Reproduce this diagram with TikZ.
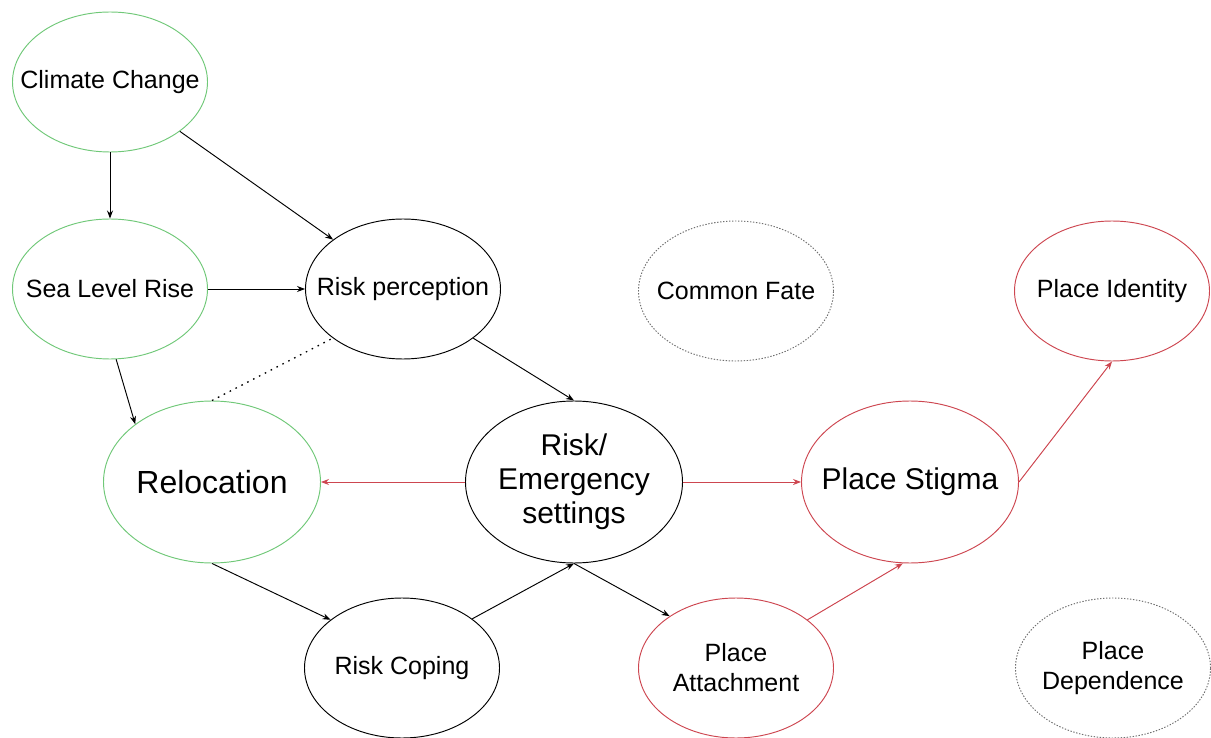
\documentclass[tikz,border=0pt]{standalone}
\usepackage{fontspec}
\setmainfont{Liberation Sans}
\usetikzlibrary{shapes.geometric,arrows.meta}
\definecolor{leafgreen}{RGB}{112,200,120}
\definecolor{stigmared}{RGB}{205,70,80}
\definecolor{fategray}{RGB}{110,110,110}

\begin{document}
\begin{tikzpicture}[x=1pt, y=-1pt, line width=0.95pt,
        bubble/.style={ellipse, draw, inner sep=-100pt, minimum width=195pt, minimum height=140pt, align=center, font=\fontsize{25}{30}\selectfont},
        bigbubble/.style={bubble, minimum width=217pt, minimum height=162pt, font=\fontsize{30}{34}\selectfont},
        dotbubble/.style={bubble, draw=fategray, dash pattern=on 1.4pt off 1.6pt},
        link/.style={-{Stealth[length=8pt, width=6pt]}},
        redlink/.style={link, draw=stigmared, fill=stigmared},
        dotline/.style={line width=1.3pt, dash pattern=on 1.6pt off 5pt}]
    \useasboundingbox (0,0) rectangle (1211,738);

    \node [bubble, draw=leafgreen] (cc) at (110,82) {Climate Change};
    \node [bubble, draw=leafgreen] (slr) at (110,289) {Sea Level Rise};
    \node [bubble] (rp) at (403,289) {Risk perception};
    \node [dotbubble] (cf) at (736,291) {Common Fate};
    \node [bubble, draw=stigmared] (pi) at (1112,291) {Place Identity};
    \node [bigbubble, draw=leafgreen, font=\fontsize{32}{36}\selectfont] (rel) at (212,482) {Relocation};
    \node [bigbubble] (res) at (574,482) {Risk/\\Emergency\\settings};
    \node [bigbubble, draw=stigmared] (ps) at (910,482) {Place Stigma};
    \node [bubble] (rc) at (402,668) {Risk Coping};
    \node [bubble, draw=stigmared] (pa) at (736,668) {Place\\Attachment};
    \node [dotbubble] (pd) at (1113,668) {Place\\Dependence};

    \draw [link] (cc) -- (slr);
    \draw [link] (cc) -- (rp);
    \draw [link] (slr) -- (rp);
    \draw [link] (slr.-85) -- (rel.143);
    \draw [link] (rp.-35) -- (res.north);
    \draw [dotline] (rel.north) -- (rp.215);
    \draw [redlink] (res) -- (rel);
    \draw [redlink] (res) -- (ps);
    \draw [redlink] (ps.east) -- (pi.south);
    \draw [link] (rel.south) -- (rc.146);
    \draw [link] (rc.35) -- (res.south);
    \draw [link] (res.south) -- (pa.142);
    \draw [redlink] (pa.34) -- (ps.265);
\end{tikzpicture}
\end{document}
